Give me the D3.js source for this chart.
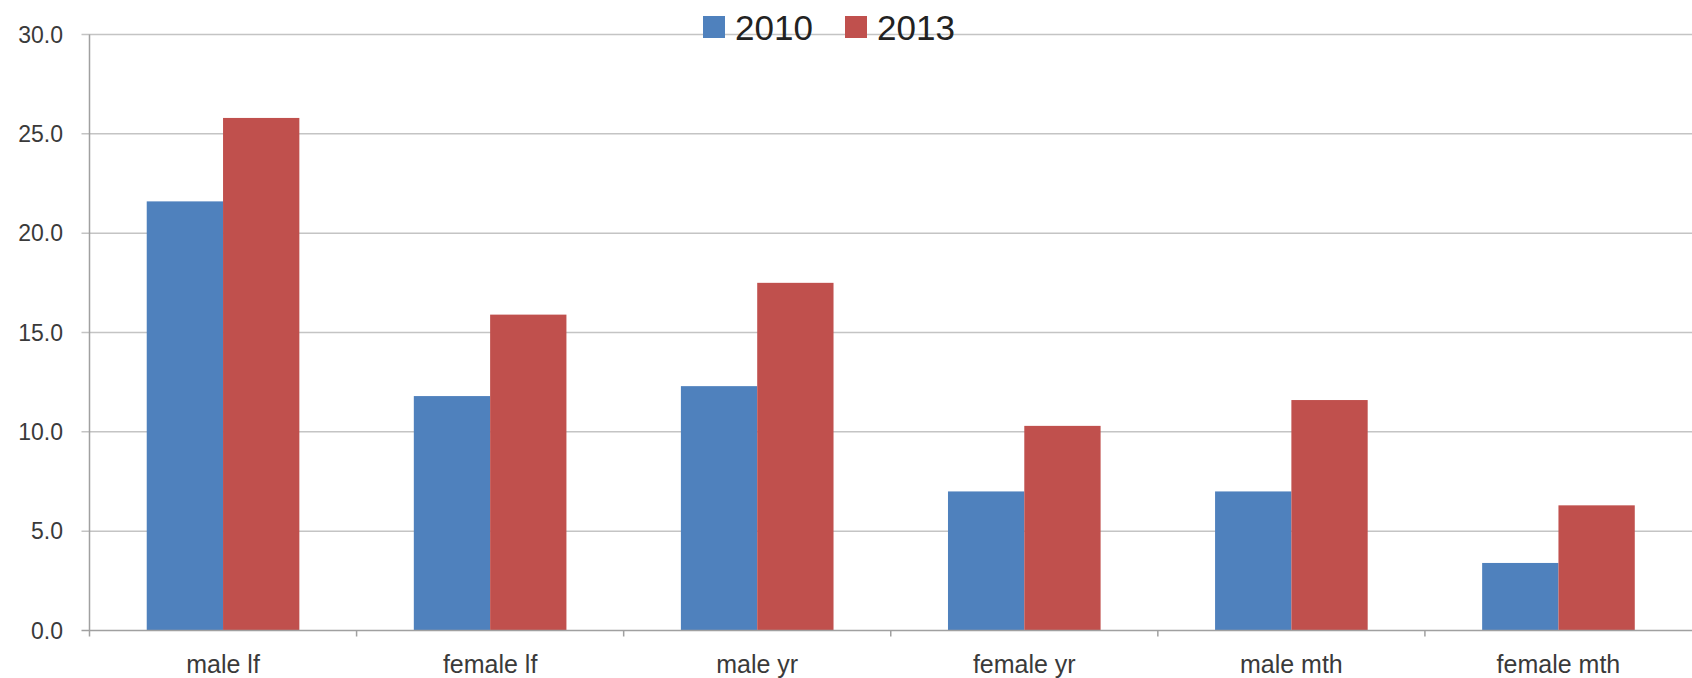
<!DOCTYPE html>
<html>
<head>
<meta charset="utf-8">
<script src="https://cdn.jsdelivr.net/npm/d3@7"></script>
<style>
  body { margin: 0; background: #fff; }
  text { font-family: "Liberation Sans", Arial, sans-serif; fill: #3a3a3a; }
</style>
</head>
<body>
<svg id="chart" width="1692" height="678"></svg>
<script>
// data
const categories = ["male lf", "female lf", "male yr", "female yr", "male mth", "female mth"];
const seriesNames = ["2010", "2013"];
const values2010 = [21.6, 11.8, 12.3, 7.0, 7.0, 3.4];
const values2013 = [25.8, 15.9, 17.5, 10.3, 11.6, 6.3];
const yTicks = [0, 5, 10, 15, 20, 25, 30];
const colors = ["#4f81bd", "#c0504d"];

const plotLeft = 89.5, plotRight = 1692, plotTop = 34.5, plotBottom = 630.5;
const svg = d3.select("#chart");

const x = d3.scaleBand().domain(categories).range([plotLeft, plotRight]).padding(0);
const y = d3.scaleLinear().domain([0, 30]).range([plotBottom, plotTop]);
// excel style: gap width 150%
const barW = x.bandwidth() / 3.5;

// gridlines + y ticks
svg.append("g")
  .selectAll("line").data(yTicks.slice(1)).enter().append("line")
  .attr("x1", plotLeft - 8).attr("x2", plotRight)
  .attr("y1", d => y(d)).attr("y2", d => y(d))
  .attr("stroke", "#c4c4c4").attr("stroke-width", 1.5);

// y labels
svg.append("g")
  .selectAll("text").data(yTicks).enter().append("text")
  .attr("x", 63).attr("y", d => y(d))
  .attr("dy", "0.36em")
  .attr("text-anchor", "end")
  .style("font-size", "23px")
  .text(d => d3.format(".1f")(d));

// bars
const series = [values2010, values2013];
series.forEach(function(vals, s) {
  svg.append("g")
    .selectAll("rect").data(vals).enter().append("rect")
    .attr("x", (d, i) => x(categories[i]) + 0.75 * barW + s * barW)
    .attr("y", d => y(d))
    .attr("width", barW)
    .attr("height", d => y(0) - y(d))
    .attr("fill", colors[s]);
});

// y axis line
svg.append("line")
  .attr("x1", plotLeft).attr("x2", plotLeft)
  .attr("y1", plotTop).attr("y2", plotBottom + 6)
  .attr("stroke", "#a0a0a0").attr("stroke-width", 1.5);

// x axis line
svg.append("line")
  .attr("x1", plotLeft - 8).attr("x2", plotRight)
  .attr("y1", plotBottom).attr("y2", plotBottom)
  .attr("stroke", "#a0a0a0").attr("stroke-width", 1.5);

// x ticks at category boundaries
svg.append("g")
  .selectAll("line").data(categories.slice(1)).enter().append("line")
  .attr("x1", d => x(d)).attr("x2", d => x(d))
  .attr("y1", plotBottom).attr("y2", plotBottom + 6)
  .attr("stroke", "#a0a0a0").attr("stroke-width", 1.5);

// x labels
svg.append("g")
  .selectAll("text").data(categories).enter().append("text")
  .attr("x", d => x(d) + x.bandwidth() / 2)
  .attr("y", 673)
  .attr("text-anchor", "middle")
  .style("font-size", "25px")
  .text(d => d);

// legend
const legendX = [703, 845];
const legend = svg.append("g");
seriesNames.forEach(function(name, i) {
  legend.append("rect")
    .attr("x", legendX[i]).attr("y", 16)
    .attr("width", 22).attr("height", 22)
    .attr("fill", colors[i]);
  legend.append("text")
    .attr("x", legendX[i] + 32).attr("y", 40)
    .style("font-size", "35px")
    .style("fill", "#222")
    .text(name);
});
</script>
</body>
</html>
